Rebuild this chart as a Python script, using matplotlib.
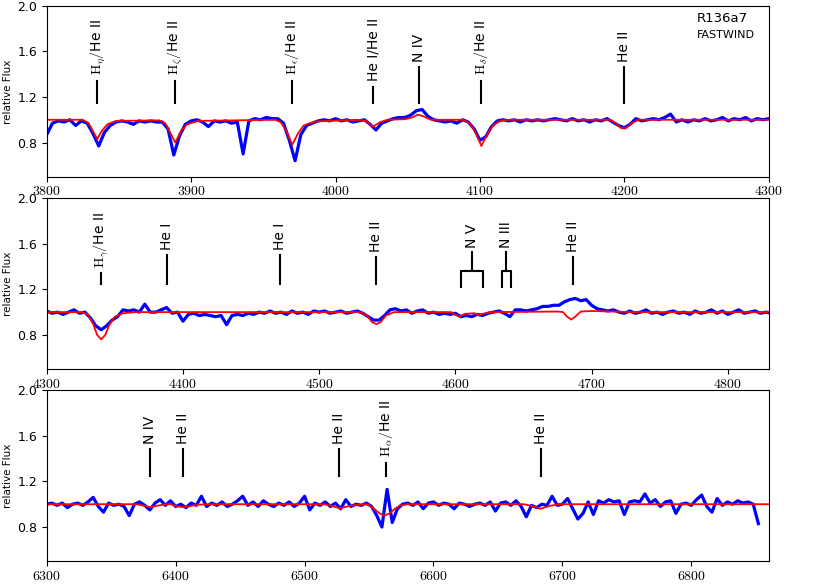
import numpy as np
import matplotlib
matplotlib.use("Agg")
import matplotlib.pyplot as plt
from matplotlib.ticker import FuncFormatter, MultipleLocator

# ==========================================
# 1. DATA
# ==========================================
step = 4.0  # Angstrom spacing of the observed spectrum samples

# --- panel 1: 3800 - 4300 A ---
obs1_start = 3800.0
obs1_flux = [
    0.87, 0.97, 0.99, 0.98, 1.00, 0.95, 0.99, 0.97, 0.88, 0.77,   # 3800
    0.89, 0.95, 0.98, 0.99, 0.98, 0.96, 0.99, 0.98, 0.99, 0.98,   # 3840
    0.98, 0.92, 0.69, 0.86, 0.96, 0.99, 1.00, 0.98, 0.94, 0.99,   # 3880
    0.98, 0.99, 0.97, 0.98, 0.70, 0.99, 1.01, 1.00, 1.02, 1.01,   # 3920
    1.01, 0.97, 0.82, 0.64, 0.87, 0.95, 0.97, 0.99, 1.00, 0.99,   # 3960
    1.01, 0.99, 1.00, 0.98, 0.99, 1.00, 0.96, 0.91, 0.97, 0.99,   # 4000
    1.01, 1.02, 1.02, 1.04, 1.08, 1.09, 1.03, 1.00, 0.99, 0.98,   # 4040
    0.99, 0.97, 1.00, 0.98, 0.92, 0.82, 0.85, 0.94, 0.99, 1.00,   # 4080
    0.99, 1.00, 0.98, 1.00, 0.99, 1.00, 0.99, 1.00, 1.01, 1.00,   # 4120
    0.99, 1.01, 0.99, 1.00, 0.98, 1.00, 0.99, 1.01, 0.98, 0.95,   # 4160
    0.93, 0.96, 1.01, 0.99, 1.00, 1.01, 1.00, 1.02, 1.05, 0.98,   # 4200
    1.00, 0.98, 1.00, 0.99, 1.01, 0.99, 1.00, 1.02, 0.99, 1.01,   # 4240
    1.00, 1.02, 0.99, 1.01, 1.00, 1.01,                           # 4280
]
mod1_wave = [3800, 3825, 3829, 3832, 3835, 3838, 3842, 3848, 3878, 3882,
             3885, 3889, 3893, 3897, 3905, 3958, 3962, 3966, 3970, 3974,
             3978, 3986, 4015, 4021, 4026, 4031, 4036, 4048, 4053, 4057,
             4061, 4066, 4088, 4093, 4097, 4101, 4105, 4109, 4114, 4120,
             4190, 4194, 4198, 4201, 4205, 4210, 4300]
mod1_flux = [1.0, 1.0, 0.97, 0.90, 0.83, 0.90, 0.96, 0.99, 0.995, 0.97,
             0.90, 0.80, 0.90, 0.96, 0.99, 1.0, 0.98, 0.90, 0.78, 0.88,
             0.95, 0.985, 1.0, 0.99, 0.94, 0.98, 1.0, 1.005, 1.02, 1.045,
             1.03, 1.0, 1.0, 0.97, 0.89, 0.77, 0.87, 0.95, 0.99, 1.0,
             1.0, 0.97, 0.925, 0.925, 0.97, 1.0, 1.0]

# --- panel 2: 4300 - 4830 A ---
obs2_start = 4300.0
obs2_flux = [
    1.01, 0.99, 1.00, 0.98, 1.00, 1.02, 0.99, 1.00, 0.95, 0.88,   # 4300
    0.845, 0.88, 0.93, 0.96, 1.02, 1.01, 1.02, 1.00, 1.07, 1.00,  # 4340
    1.00, 1.02, 1.04, 0.99, 1.00, 0.92, 0.98, 0.99, 0.97, 0.98,   # 4380
    0.97, 0.96, 0.97, 0.89, 0.97, 0.98, 0.97, 0.99, 0.98, 1.00,   # 4420
    0.99, 1.01, 0.99, 1.00, 0.98, 1.01, 0.99, 1.00, 0.98, 1.01,   # 4460
    1.00, 1.01, 0.99, 1.00, 1.01, 0.99, 1.00, 1.01, 0.99, 0.96,   # 4500
    0.93, 0.93, 0.97, 1.02, 1.03, 1.01, 1.02, 0.99, 1.01, 1.02,   # 4540
    0.99, 1.00, 0.98, 0.99, 0.98, 0.99, 0.96, 0.97, 0.96, 0.98,   # 4580
    0.97, 0.99, 1.00, 1.01, 0.99, 0.96, 1.02, 1.02, 1.01, 1.02,   # 4620
    1.03, 1.05, 1.05, 1.06, 1.06, 1.09, 1.11, 1.12, 1.10, 1.11,   # 4660
    1.06, 1.03, 1.02, 1.01, 1.02, 1.00, 0.99, 1.01, 0.99, 1.00,   # 4700
    1.02, 0.99, 1.00, 0.98, 1.00, 1.01, 0.99, 1.00, 0.98, 1.01,   # 4740
    0.99, 1.00, 1.02, 0.99, 1.01, 0.98, 1.00, 1.02, 0.99, 1.00,   # 4780
    1.01, 0.99, 1.00, 0.99,                                       # 4820
]
mod2_wave = [4300, 4326, 4330, 4334, 4337, 4340, 4343, 4346, 4350, 4356,
             4365, 4530, 4535, 4539, 4542, 4545, 4549, 4555, 4597, 4600,
             4603, 4607, 4614, 4617, 4620, 4626, 4675, 4679, 4682, 4685,
             4688, 4692, 4700, 4730, 4830]
mod2_flux = [1.0, 1.0, 0.98, 0.90, 0.80, 0.76, 0.80, 0.89, 0.96, 0.99,
             1.0, 1.0, 0.97, 0.91, 0.895, 0.91, 0.97, 1.0, 1.0, 0.975,
             0.96, 0.985, 0.99, 0.975, 0.985, 1.0, 1.005, 1.0, 0.96, 0.935,
             0.96, 1.005, 1.01, 1.0, 1.0]

# --- panel 3: 6300 - 6860 A ---
obs3_start = 6300.0
obs3_flux = [
    1.00, 1.01, 0.99, 1.01, 0.97, 1.00, 1.01, 0.99, 1.02, 1.06,   # 6300
    0.98, 0.93, 1.01, 0.99, 1.00, 0.98, 0.90, 1.00, 1.02, 0.99,   # 6340
    0.95, 1.01, 1.04, 0.99, 1.03, 0.98, 1.00, 0.97, 1.01, 0.99,   # 6380
    1.07, 0.98, 1.01, 0.99, 1.02, 0.98, 1.00, 1.03, 1.07, 0.99,   # 6420
    1.02, 0.98, 1.03, 1.00, 0.98, 1.01, 0.99, 1.02, 0.98, 1.01,   # 6460
    1.07, 0.95, 1.01, 0.99, 1.02, 0.98, 1.01, 0.96, 1.04, 0.98,   # 6500
    1.00, 0.99, 1.01, 0.98, 0.90, 0.80, 1.13, 0.84, 0.96, 1.00,   # 6540
    1.01, 0.99, 1.02, 0.96, 1.01, 1.02, 0.99, 1.01, 1.00, 0.96,   # 6580
    1.01, 1.00, 0.98, 1.00, 1.01, 0.99, 1.02, 0.94, 1.01, 1.02,   # 6620
    0.99, 1.03, 0.98, 0.89, 0.99, 0.97, 1.00, 0.99, 1.07, 0.99,   # 6660
    1.00, 1.05, 0.96, 0.87, 0.92, 1.02, 0.91, 1.03, 1.01, 1.04,   # 6700
    1.02, 1.03, 0.91, 1.02, 1.03, 1.02, 1.09, 1.01, 1.04, 0.98,   # 6740
    1.02, 1.03, 0.92, 1.00, 1.01, 0.99, 1.04, 1.08, 0.98, 0.93,   # 6780
    1.05, 0.99, 1.02, 1.00, 1.03, 1.01, 1.02, 1.00, 0.83,         # 6820
]
mod3_wave = [6300, 6370, 6376, 6380, 6385, 6392, 6396, 6400, 6405, 6410,
             6416, 6425, 6515, 6521, 6527, 6533, 6540, 6548, 6550, 6554,
             6558, 6562, 6566, 6570, 6574, 6580, 6670, 6676, 6683, 6690,
             6697, 6860]
mod3_flux = [1.0, 1.0, 0.985, 0.975, 0.985, 1.0, 1.0, 0.985, 0.975, 0.98,
             0.995, 1.0, 1.0, 0.985, 0.965, 0.98, 0.995, 1.0, 0.99, 0.96,
             0.92, 0.90, 0.92, 0.96, 0.99, 1.0, 1.0, 0.985, 0.96, 0.985,
             1.0, 1.0]

# line identifications: (wavelength, label, top of marker)
lines1 = [(3835, r'$\mathrm{H}_\eta/$He II', 1.34),
          (3889, r'$\mathrm{H}_\zeta/$He II', 1.34),
          (3970, r'$\mathrm{H}_\epsilon/$He II', 1.34),
          (4026, 'He I/He II', 1.29),
          (4058, 'N IV', 1.46),
          (4101, r'$\mathrm{H}_\delta/$He II', 1.34),
          (4200, 'He II', 1.46)]
lines2 = [(4340, r'$\mathrm{H}_\gamma/$He II', 1.34),
          (4388, 'He I', 1.50),
          (4471, 'He I', 1.50),
          (4542, 'He II', 1.48),
          (4686, 'He II', 1.48)]
# blended multiplets drawn as brackets: (blue edge, red edge, label)
brackets2 = [(4604, 4620, 'N V'),
             (4634, 4641, 'N III')]
lines3 = [(6380, 'N IV', 1.48),
          (6406, 'He II', 1.48),
          (6527, 'He II', 1.48),
          (6563, r'$\mathrm{H}_\alpha/$He II', 1.36),
          (6683, 'He II', 1.48)]

# ==========================================
# 2. FIGURE SETUP
# ==========================================
plt.rcParams['mathtext.fontset'] = 'cm'
plt.rcParams['font.family'] = 'DejaVu Sans'

fig = plt.figure(figsize=(8.27, 5.85), dpi=100)
ax1 = fig.add_axes([0.0565, 0.698, 0.873, 0.2918])
ax2 = fig.add_axes([0.0565, 0.3692, 0.873, 0.2918])
ax3 = fig.add_axes([0.0565, 0.0405, 0.873, 0.2928])

panels = [
    (ax1, obs1_start, obs1_flux, mod1_wave, mod1_flux, (3800, 4300)),
    (ax2, obs2_start, obs2_flux, mod2_wave, mod2_flux, (4300, 4830)),
    (ax3, obs3_start, obs3_flux, mod3_wave, mod3_flux, (6300, 6860)),
]

tex_fmt = FuncFormatter(lambda v, pos: r'$%d$' % v)

for ax, start, flux, mw, mf, xlim in panels:
    wave = start + step * np.arange(len(flux))
    ax.plot(wave, flux, color='blue', lw=2.3)
    ax.plot(mw, mf, color='red', lw=1.3)
    ax.set_xlim(*xlim)
    ax.set_ylim(0.5, 2.0)
    ax.set_yticks([0.8, 1.2, 1.6, 2.0])
    ax.xaxis.set_major_locator(MultipleLocator(100))
    ax.xaxis.set_major_formatter(tex_fmt)
    ax.tick_params(axis='x', labelsize=10, pad=2)
    ax.tick_params(axis='y', labelsize=9)
    ax.set_ylabel('relative Flux', fontsize=7.5, labelpad=3)


def mark_line(ax, x, label, top, bottom, gap=0.05):
    ax.plot([x, x], [bottom, top], color='black', lw=1.5)
    ax.text(x, top + gap, label, rotation=90, ha='center', va='bottom',
            fontsize=10, color='black')


def mark_bracket(ax, x0, x1, label, bar=1.36, leg=1.225, stem=1.53):
    xm = 0.5 * (x0 + x1)
    ax.plot([x0, x0, x1, x1], [leg, bar, bar, leg], color='black', lw=1.5)
    ax.plot([xm, xm], [bar, stem], color='black', lw=1.5)
    ax.text(xm, stem + 0.03, label, rotation=90, ha='center', va='bottom',
            fontsize=10, color='black')


for x, lab, top in lines1:
    mark_line(ax1, x, lab, top, 1.15)
for x, lab, top in lines2:
    mark_line(ax2, x, lab, top, 1.245)
for x0, x1, lab in brackets2:
    mark_bracket(ax2, x0, x1, lab)
for x, lab, top in lines3:
    mark_line(ax3, x, lab, top, 1.243)

ax1.text(0.90, 0.925, 'R136a7', transform=ax1.transAxes, fontsize=9.5,
         ha='left', va='center')
ax1.text(0.90, 0.83, 'FASTWIND', transform=ax1.transAxes, fontsize=8,
         ha='left', va='center')

fig.savefig('out.png', dpi=100)
